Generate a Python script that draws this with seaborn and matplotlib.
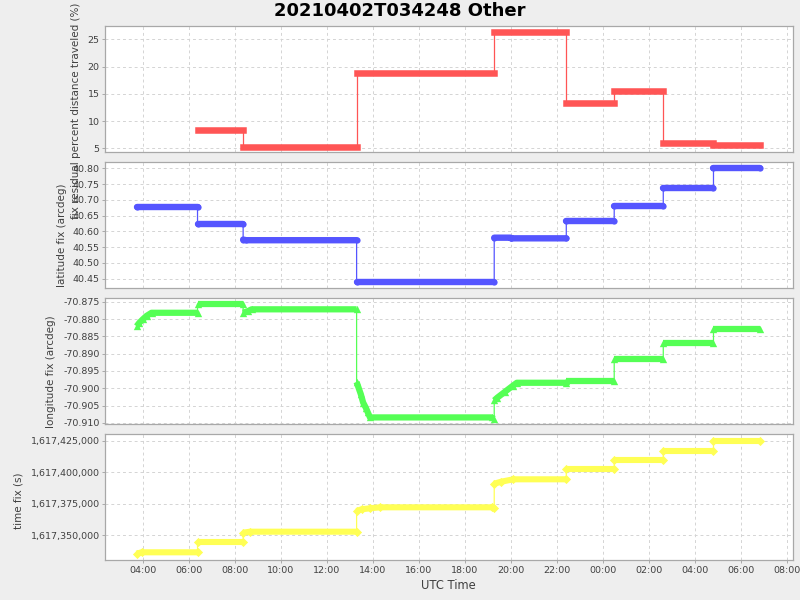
import pandas as pd
import matplotlib
matplotlib.use("Agg")
import matplotlib.pyplot as plt
import matplotlib.dates as mdates
from matplotlib.ticker import FixedLocator, FuncFormatter
import seaborn as sns

# 数据: 每个面板的点 (时间, 数值, 段号)
pct_time = ["2021-04-02 06:23", "2021-04-02 08:22", "2021-04-02 08:22", "2021-04-02 13:18",
            "2021-04-02 13:18", "2021-04-02 19:17", "2021-04-02 19:17", "2021-04-02 22:25",
            "2021-04-02 22:25", "2021-04-03 00:30", "2021-04-03 00:30", "2021-04-03 02:38",
            "2021-04-03 02:38", "2021-04-03 04:49", "2021-04-03 04:49", "2021-04-03 06:51"]
pct_value = [8.3, 8.3, 5.2, 5.2, 18.9, 18.9, 26.3, 26.3,
             13.4, 13.4, 15.6, 15.6, 5.9, 5.9, 5.7, 5.7]
pct_seg = [2, 2, 3, 3, 4, 4, 5, 5, 6, 6, 7, 7, 8, 8, 9, 9]

lat_time = ["2021-04-02 03:44", "2021-04-02 06:23", "2021-04-02 06:23", "2021-04-02 08:22",
            "2021-04-02 08:22", "2021-04-02 08:30", "2021-04-02 13:18",
            "2021-04-02 13:18", "2021-04-02 19:17",
            "2021-04-02 19:17", "2021-04-02 20:00", "2021-04-02 20:01", "2021-04-02 22:25",
            "2021-04-02 22:25", "2021-04-03 00:30", "2021-04-03 00:30", "2021-04-03 02:38",
            "2021-04-03 02:38", "2021-04-03 04:49", "2021-04-03 04:49", "2021-04-03 06:51"]
lat_value = [40.676, 40.676, 40.622, 40.622,
             40.574, 40.572, 40.572,
             40.438, 40.438,
             40.580, 40.580, 40.578, 40.578,
             40.632, 40.632, 40.679, 40.679,
             40.737, 40.737, 40.800, 40.800]
lat_seg = [1, 1, 2, 2, 3, 3, 3, 4, 4, 5, 5, 5, 5, 6, 6, 7, 7, 8, 8, 9, 9]

lon_time = ["2021-04-02 03:44", "2021-04-02 03:51", "2021-04-02 04:00", "2021-04-02 04:10",
            "2021-04-02 04:23", "2021-04-02 06:23",
            "2021-04-02 06:23", "2021-04-02 08:22",
            "2021-04-02 08:22", "2021-04-02 08:35", "2021-04-02 08:44", "2021-04-02 13:18",
            "2021-04-02 13:18", "2021-04-02 13:29", "2021-04-02 13:35", "2021-04-02 13:42",
            "2021-04-02 13:47", "2021-04-02 13:53", "2021-04-02 19:10", "2021-04-02 19:17",
            "2021-04-02 19:17", "2021-04-02 19:25", "2021-04-02 19:45", "2021-04-02 20:05",
            "2021-04-02 20:16", "2021-04-02 22:25",
            "2021-04-02 22:25", "2021-04-03 00:30", "2021-04-03 00:30", "2021-04-03 02:38",
            "2021-04-03 02:38", "2021-04-03 04:49", "2021-04-03 04:49", "2021-04-03 06:51"]
lon_value = [-70.8821, -70.8811, -70.8801, -70.8791, -70.8782, -70.8782,
             -70.8757, -70.8757,
             -70.8782, -70.8777, -70.8772, -70.8772,
             -70.8982, -70.9017, -70.9041, -70.9056, -70.9069, -70.9084, -70.9084, -70.9088,
             -70.9035, -70.9027, -70.9010, -70.8993, -70.8984, -70.8984,
             -70.8978, -70.8978, -70.8916, -70.8916,
             -70.8870, -70.8870, -70.8830, -70.8830]
lon_seg = [1, 1, 1, 1, 1, 1, 2, 2, 3, 3, 3, 3,
           4, 4, 4, 4, 4, 4, 4, 4, 5, 5, 5, 5, 5, 5,
           6, 6, 7, 7, 8, 8, 9, 9]

tfix_time = ["2021-04-02 03:44", "2021-04-02 03:57", "2021-04-02 06:23",
             "2021-04-02 06:23", "2021-04-02 08:22",
             "2021-04-02 08:22", "2021-04-02 08:40", "2021-04-02 13:18",
             "2021-04-02 13:18", "2021-04-02 13:31", "2021-04-02 13:53", "2021-04-02 14:19",
             "2021-04-02 19:10", "2021-04-02 19:17",
             "2021-04-02 19:17", "2021-04-02 19:35", "2021-04-02 20:07", "2021-04-02 22:25",
             "2021-04-02 22:25", "2021-04-03 00:30", "2021-04-03 00:30", "2021-04-03 02:38",
             "2021-04-03 02:38", "2021-04-03 04:49", "2021-04-03 04:49", "2021-04-03 06:51"]
tfix_value = [1617335130, 1617336240, 1617336240,
              1617344190, 1617344190,
              1617351830, 1617352630, 1617352630,
              1617369090, 1617370440, 1617371240, 1617372030, 1617372030, 1617371700,
              1617390800, 1617392390, 1617394300, 1617394300,
              1617402240, 1617402240, 1617409400, 1617409400,
              1617417040, 1617417040, 1617425000, 1617425000]
tfix_seg = [1, 1, 1, 2, 2, 3, 3, 3, 4, 4, 4, 4, 4, 4, 5, 5, 5, 5, 6, 6, 7, 7, 8, 8, 9, 9]

TITLE = "20210402T034248 Other"
X_RANGE = ("2021-04-02 02:20:20", "2021-04-03 08:16:26")

sns.set_style("whitegrid")
plt.rcParams["font.family"] = ["DejaVu Sans"]
plt.rcParams["axes.unicode_minus"] = False

TEXT = "#404040"


def make_frame(times, values, segs):
    return pd.DataFrame({"time": pd.to_datetime(times), "value": values, "seg": segs})


def draw_series(ax, df, color, band, cap, marker=None, msize=0):
    # 粗线段 (每段一条)
    sns.lineplot(data=df, x="time", y="value", units="seg", estimator=None,
                 color=color, lw=band, solid_capstyle=cap, ax=ax, legend=False)
    # 细连接线
    sns.lineplot(data=df, x="time", y="value", estimator=None, sort=False,
                 color=color, lw=0.9, ax=ax, legend=False)
    if marker:
        sns.scatterplot(data=df, x="time", y="value", marker=marker, s=msize,
                        color=color, linewidth=0, ax=ax, legend=False, zorder=3)


fig = plt.figure(figsize=(8, 6), dpi=100, facecolor="#EEEEEE")
left, width = 104.5 / 800, 688.5 / 800
rects = [(26.3, 152.3), (162.3, 288.0), (298.3, 424.0), (434.3, 560.0)]
axes = [fig.add_axes([left, 1 - bot / 600, width, (bot - top) / 600]) for top, bot in rects]
ax_pct, ax_lat, ax_lon, ax_t = axes

draw_series(ax_pct, make_frame(pct_time, pct_value, pct_seg), "#FF5555", 4.7, "projecting")
draw_series(ax_lat, make_frame(lat_time, lat_value, lat_seg), "#5555FF", 4.6, "round", "o", 20)
draw_series(ax_lon, make_frame(lon_time, lon_value, lon_seg), "#55FF55", 4.5, "butt", "^", 28)
draw_series(ax_t, make_frame(tfix_time, tfix_value, tfix_seg), "#FFFF55", 4.4, "butt", "D", 22)

# y 轴
ax_pct.set_ylim(4.27, 27.39)
ax_pct.yaxis.set_major_locator(FixedLocator([5, 10, 15, 20, 25]))
ax_pct.yaxis.set_major_formatter(FuncFormatter(lambda v, p: f"{v:.0f}"))

ax_lat.set_ylim(40.4205, 40.819)
ax_lat.yaxis.set_major_locator(FixedLocator([40.45, 40.50, 40.55, 40.60, 40.65, 40.70, 40.75, 40.80]))
ax_lat.yaxis.set_major_formatter(FuncFormatter(lambda v, p: f"{v:.2f}"))

ax_lon.set_ylim(-70.9103, -70.87402)
ax_lon.yaxis.set_major_locator(FixedLocator([-70.910, -70.905, -70.900, -70.895,
                                             -70.890, -70.885, -70.880, -70.875]))
ax_lon.yaxis.set_major_formatter(FuncFormatter(lambda v, p: f"{v:.3f}"))

ax_t.set_ylim(1617330117, 1617430090)
ax_t.yaxis.set_major_locator(FixedLocator([1617350000, 1617375000, 1617400000, 1617425000]))
ax_t.yaxis.set_major_formatter(FuncFormatter(lambda v, p: f"{v:,.0f}"))

labels = [("fix residual percent distance traveled (%)", -0.0341, 0.332),
          ("latitude fix (arcdeg)", -0.0545, 0.4217),
          ("longitude fix (arcdeg)", -0.070, 0.415),
          ("time fix (s)", -0.1176, 0.469)]

xmin, xmax = pd.to_datetime(X_RANGE[0]), pd.to_datetime(X_RANGE[1])
for ax, (lab, lx, ly) in zip(axes, labels):
    ax.set_facecolor("white")
    ax.set_xlim(xmin, xmax)
    ax.xaxis.set_major_locator(mdates.HourLocator(byhour=range(0, 24, 2)))
    ax.xaxis.set_major_formatter(mdates.DateFormatter("%H:%M"))
    ax.grid(True, color="#d4d4d4", lw=0.7, ls=(0, (3, 3)))
    ax.set_axisbelow(True)
    for sp in ax.spines.values():
        sp.set_visible(True)
        sp.set_color("#a8a8a8")
        sp.set_linewidth(0.9)
    ax.tick_params(axis="y", left=True, length=2, width=0.6, color="#a0a0a0",
                   pad=1.5, labelsize=6.8, labelcolor=TEXT)
    ax.set_ylabel(lab, fontsize=7.5, color=TEXT)
    ax.yaxis.set_label_coords(lx, ly)
    ax.set_xlabel("")
    if ax is not ax_t:
        ax.tick_params(axis="x", length=0, labelbottom=False)

ax_t.tick_params(axis="x", bottom=True, length=2, width=0.6, color="#a0a0a0",
                 pad=2.0, labelsize=6.8, labelcolor=TEXT)
ax_t.set_xlabel("UTC Time", fontsize=8.3, color=TEXT)
ax_t.xaxis.set_label_coords(0.5, -0.155)

fig.text(0.5, 1 - 11.5 / 600, TITLE, ha="center", va="center",
         fontsize=13, fontweight="bold", color="black")

fig.savefig("out.png", dpi=100, facecolor=fig.get_facecolor())
